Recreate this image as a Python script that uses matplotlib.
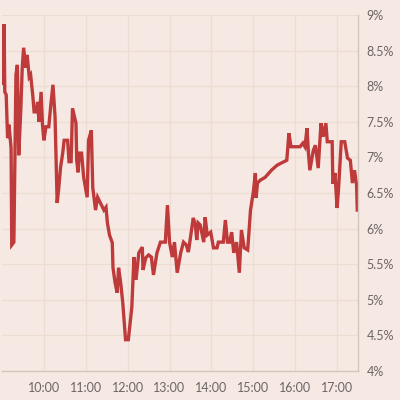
import matplotlib
matplotlib.use("Agg")
import matplotlib.pyplot as plt
import matplotlib.dates as mdates
import pandas as pd

# intraday yield, %
times = [
    "09:00", "09:03", "09:04", "09:06", "09:08", "09:10", "09:13", "09:14", "09:17", "09:20",
    "09:22", "09:24", "09:27", "09:29", "09:31", "09:34", "09:36", "09:39", "09:41", "09:44",
    "09:46", "09:49", "09:51", "09:53", "09:56", "09:58", "10:00", "10:03", "10:07", "10:10",
    "10:13", "10:16", "10:19", "10:21", "10:24", "10:27", "10:29", "10:34", "10:36", "10:39",
    "10:41", "10:46", "10:47", "10:49", "10:51", "10:54", "10:57", "11:02", "11:04", "11:08",
    "11:10", "11:14", "11:17", "11:21", "11:26", "11:29", "11:31", "11:34", "11:38", "11:39",
    "11:42", "11:45", "11:47", "11:50", "11:53", "11:57", "12:01", "12:06", "12:09", "12:12",
    "12:16", "12:21", "12:22", "12:26", "12:30", "12:34", "12:37", "12:42", "12:47", "12:54",
    "12:57", "13:00", "13:04", "13:07", "13:11", "13:16", "13:20", "13:24", "13:27", "13:31",
    "13:34", "13:37", "13:39", "13:41", "13:44", "13:49", "13:51", "13:54", "13:59", "14:03",
    "14:08", "14:10", "14:17", "14:20", "14:23", "14:26", "14:29", "14:32", "14:36", "14:40",
    "14:43", "14:47", "14:52", "14:56", "15:00", "15:03", "15:04", "15:06", "15:10", "15:17",
    "15:26", "15:34", "15:48", "15:51", "15:54", "16:07", "16:11", "16:14", "16:17", "16:19",
    "16:21", "16:26", "16:29", "16:33", "16:37", "16:40", "16:44", "16:46", "16:53", "16:54",
    "16:57", "17:00", "17:02", "17:06", "17:11", "17:15", "17:19", "17:22", "17:25", "17:28",
    "17:29",
]
yields = [
    8.04, 8.87, 7.92, 7.88, 7.27, 7.46, 7.13, 5.77, 5.81, 8.16,
    8.30, 7.03, 7.69, 8.26, 8.54, 8.26, 8.44, 8.13, 8.16, 7.88,
    7.64, 7.64, 7.78, 7.50, 7.92, 7.46, 7.24, 7.43, 7.43, 7.74,
    8.02, 7.57, 6.36, 6.54, 6.87, 7.06, 7.24, 7.24, 6.94, 6.94,
    7.69, 7.48, 6.96, 6.79, 7.06, 7.06, 6.72, 6.44, 7.24, 7.38,
    6.58, 6.26, 6.44, 6.36, 6.26, 6.30, 6.08, 5.91, 5.80, 5.45,
    5.24, 5.10, 5.45, 5.24, 4.96, 4.44, 4.44, 4.90, 5.60, 5.28,
    5.66, 5.74, 5.42, 5.59, 5.63, 5.60, 5.35, 5.66, 5.81, 5.81,
    6.33, 5.81, 5.60, 5.81, 5.38, 5.66, 5.81, 5.77, 5.67, 5.95,
    6.15, 6.05, 5.84, 6.08, 6.05, 5.81, 6.16, 5.91, 5.95, 5.73,
    5.73, 5.81, 5.81, 6.12, 5.81, 5.81, 5.95, 5.66, 5.81, 5.38,
    5.98, 5.73, 5.70, 6.26, 6.51, 6.78, 6.43, 6.64, 6.68, 6.72,
    6.82, 6.89, 6.96, 7.34, 7.15, 7.15, 7.20, 7.15, 7.41, 7.06,
    6.82, 7.10, 7.17, 6.85, 7.48, 7.29, 7.48, 7.22, 7.22, 6.63,
    6.78, 6.29, 6.54, 7.22, 7.22, 6.99, 6.96, 6.64, 6.82, 6.61,
    6.26,
]
hour_ticks = ["10:00", "11:00", "12:00", "13:00", "14:00", "15:00", "16:00", "17:00"]
y_ticks = [4, 4.5, 5, 5.5, 6, 6.5, 7, 7.5, 8, 8.5, 9]

bg = "#f6e9e3"
day = "2020-01-01 "
t = pd.to_datetime([day + s for s in times])
xt = pd.to_datetime([day + s for s in hour_ticks])

plt.rcParams["font.family"] = ["Lato", "DejaVu Sans"]

fig = plt.figure(figsize=(4, 4), dpi=100, facecolor=bg)
ax = fig.add_axes([0.005, 0.0725, 0.89, 0.89])
ax.set_facecolor(bg)

ax.plot(t, yields, color="#bf3a3a", lw=2.4, solid_joinstyle="miter")

ax.set_xlim(pd.Timestamp(day + "09:00"), pd.Timestamp(day + "17:30"))
ax.set_ylim(4, 9)
ax.set_xticks(xt)
ax.xaxis.set_major_formatter(mdates.DateFormatter("%H:%M"))
ax.set_yticks(y_ticks)
ax.set_yticklabels([f"{v:g}%" for v in y_ticks])
ax.yaxis.tick_right()

ax.grid(True, color="#eddcd2", lw=0.9)
ax.set_axisbelow(True)
for s in ["top", "left"]:
    ax.spines[s].set_visible(False)
for s in ["bottom", "right"]:
    ax.spines[s].set_color("#d3c6bf")
    ax.spines[s].set_linewidth(1)
ax.tick_params(length=0, labelsize=9, colors="#6b6564")
ax.tick_params(axis="x", pad=8)
ax.tick_params(axis="y", pad=6)

fig.savefig("out.png", dpi=100, facecolor=bg)
